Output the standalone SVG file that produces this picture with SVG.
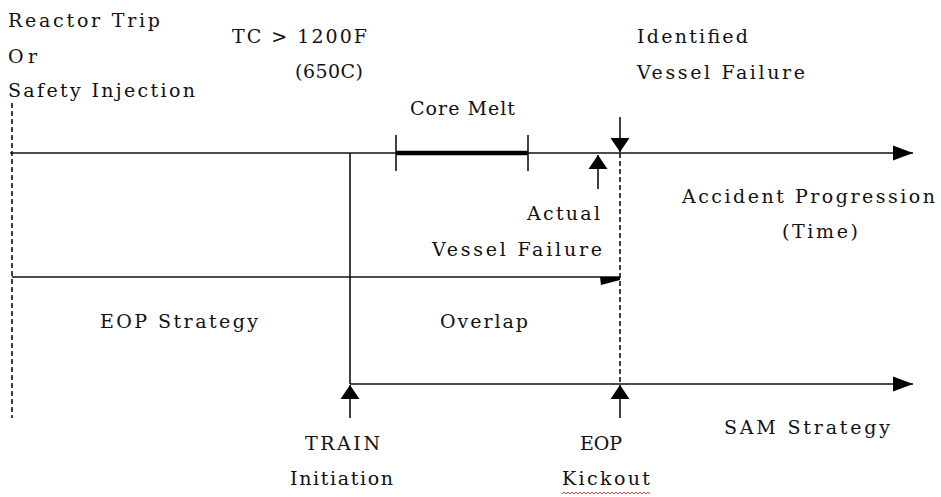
<svg xmlns="http://www.w3.org/2000/svg" width="941" height="497" viewBox="0 0 941 497">
<style>
text{font-family:"DejaVu Serif","Liberation Serif",serif;font-size:19px;fill:#111;}
.ln{stroke:#111;stroke-width:1.6;fill:none;}
.dash{stroke:#111;stroke-width:1.6;fill:none;stroke-dasharray:5 3;}
.thick{stroke:#000;stroke-width:4.5;fill:none;}
</style>
<defs>
<marker id="ah" markerUnits="userSpaceOnUse" markerWidth="21" markerHeight="16" refX="20" refY="8" orient="auto">
<path d="M0,0.5 L20,8 L0,15.5 Z" fill="#000"/>
</marker>
<marker id="av" markerUnits="userSpaceOnUse" markerWidth="15" markerHeight="20" refX="14" refY="10" orient="auto">
<path d="M0,0.5 L14,10 L0,19.5 Z" fill="#000"/>
</marker>
</defs>
<rect width="941" height="497" fill="#fff"/>
<g id="connectors">
<line class="ln" x1="10" y1="153" x2="913" y2="153" marker-end="url(#ah)"/>
<line class="thick" x1="396" y1="153" x2="528" y2="153"/>
<line class="ln" x1="396" y1="135" x2="396" y2="171"/>
<line class="ln" x1="528" y1="135" x2="528" y2="171"/>
<line class="ln" x1="598" y1="189" x2="598" y2="155" marker-end="url(#av)"/>
<line class="ln" x1="620" y1="117" x2="620" y2="152" marker-end="url(#av)"/>
<line class="dash" x1="620" y1="153" x2="620" y2="384"/>
<line class="dash" x1="12" y1="103" x2="12" y2="418"/>
<line class="ln" x1="12" y1="277" x2="620" y2="277"/>
<polygon points="600,277 620,277 620,280 601,285" fill="#000"/>
<line class="ln" x1="350" y1="153" x2="350" y2="384"/>
<line class="ln" x1="350" y1="384" x2="913" y2="384" marker-end="url(#ah)"/>
<line class="ln" x1="350" y1="418" x2="350" y2="385" marker-end="url(#av)"/>
<line class="ln" x1="620" y1="418" x2="620" y2="385" marker-end="url(#av)"/>
</g>
<g id="start-event">
<text x="8" y="27" textLength="152" lengthAdjust="spacing">Reactor Trip</text>
<text x="8" y="63" textLength="29" lengthAdjust="spacing">Or</text>
<text x="8" y="97" textLength="187" lengthAdjust="spacing">Safety Injection</text>
</g>
<g id="tc-event">
<text x="232" y="43" textLength="135" lengthAdjust="spacing">TC &gt; 1200F</text>
<text x="295" y="78" textLength="68" lengthAdjust="spacing">(650C)</text>
</g>
<g id="identified-vessel-failure">
<text x="637" y="43" textLength="111" lengthAdjust="spacing">Identified</text>
<text x="637" y="79" textLength="168" lengthAdjust="spacing">Vessel Failure</text>
</g>
<g id="core-melt">
<text x="410" y="115" textLength="105" lengthAdjust="spacing">Core Melt</text>
</g>
<g id="actual-vessel-failure">
<text x="527" y="220" textLength="73" lengthAdjust="spacing">Actual</text>
<text x="432" y="256" textLength="170" lengthAdjust="spacing">Vessel Failure</text>
</g>
<g id="accident-progression">
<text x="682" y="203" textLength="253" lengthAdjust="spacing">Accident Progression</text>
<text x="782" y="238" textLength="76" lengthAdjust="spacing">(Time)</text>
</g>
<g id="eop-strategy">
<text x="100" y="328" textLength="158" lengthAdjust="spacing">EOP Strategy</text>
</g>
<g id="overlap">
<text x="440" y="328" textLength="88" lengthAdjust="spacing">Overlap</text>
</g>
<g id="train-initiation">
<text x="305" y="450" textLength="75" lengthAdjust="spacing">TRAIN</text>
<text x="290" y="485" textLength="103" lengthAdjust="spacing">Initiation</text>
</g>
<g id="eop-kickout">
<text x="580" y="450" textLength="42" lengthAdjust="spacing">EOP</text>
<text x="562" y="485" textLength="88" lengthAdjust="spacing">Kickout</text>
<path d="M562,494 l2,-2 l2,2 l2,-2 l2,2 l2,-2 l2,2 l2,-2 l2,2 l2,-2 l2,2 l2,-2 l2,2 l2,-2 l2,2 l2,-2 l2,2 l2,-2 l2,2 l2,-2 l2,2 l2,-2 l2,2 l2,-2 l2,2 l2,-2 l2,2 l2,-2 l2,2 l2,-2 l2,2 l2,-2 l2,2 l2,-2 l2,2 l2,-2 l2,2 l2,-2 l2,2 l2,-2 l2,2 l2,-2 l2,2 l2,-2 l2,2" fill="none" stroke="#d03030" stroke-width="0.9"/>
</g>
<g id="sam-strategy">
<text x="724" y="434" textLength="166" lengthAdjust="spacing">SAM Strategy</text>
</g>
</svg>
